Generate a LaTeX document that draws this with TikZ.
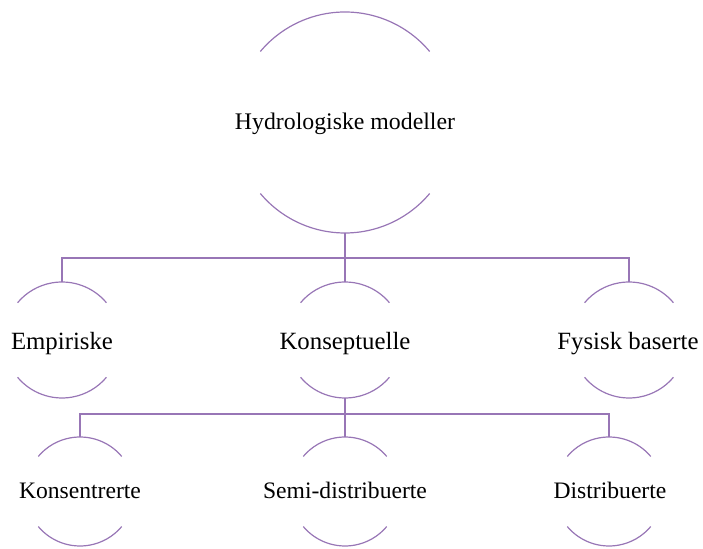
\documentclass[tikz,border=0pt]{standalone}
\usepackage{fontspec}
\setmainfont{Liberation Serif}
\definecolor{arcpurple}{RGB}{152,118,182}
\begin{document}
\begin{tikzpicture}[x=1pt,y=1pt,
  arcline/.style={draw=arcpurple, line width=1.2pt},
  ring/.style={circle, inner sep=0pt, outer sep=0pt, minimum size=#1},
  lbl/.style={anchor=base, inner sep=0pt, font=\fontsize{#1}{#1}\selectfont}]
\useasboundingbox (0,0) rectangle (703,548);
% circles (invisible shapes)
\node[ring=221pt] (h) at (345,425.5) {};
\node[ring=116pt] (e) at (62,208) {};
\node[ring=116pt] (k) at (345,208) {};
\node[ring=116pt] (f) at (629,208) {};
\node[ring=109pt] (ks) at (80,56.5) {};
\node[ring=109pt] (sd) at (345,56.5) {};
\node[ring=109pt] (d) at (609,56.5) {};
% arcs
\foreach \n/\r in {h/110.5, e/58, k/58, f/58, ks/54.5, sd/54.5, d/54.5}{
  \draw[arcline] (\n.40) arc[start angle=40, end angle=140, radius=\r];
  \draw[arcline] (\n.220) arc[start angle=220, end angle=320, radius=\r];
}
% labels
\node[lbl=23.8] (th) at (345,418) {Hydrologiske modeller};
\node[lbl=24.8] (te) at (62,198) {Empiriske};
\node[lbl=24.8] (tk) at (345,198) {Konseptuelle};
\node[lbl=24.8] (tf) at (628,198) {Fysisk baserte};
\node[lbl=23.6] (tks) at (80,49) {Konsentrerte};
\node[lbl=23.6] (tsd) at (345,49) {Semi-distribuerte};
\node[lbl=23.6] (td) at (610,49) {Distribuerte};
% connectors
\coordinate (b1) at (345,290);
\coordinate (b2) at (345,134);
\draw[arcline] (h.south) -- (b1);
\draw[arcline] (e.north) |- (b1) -| (f.north);
\draw[arcline] (b1) -- (k.north);
\draw[arcline] (k.south) -- (b2);
\draw[arcline] (ks.north) |- (b2) -| (d.north);
\draw[arcline] (b2) -- (sd.north);
\end{tikzpicture}
\end{document}
